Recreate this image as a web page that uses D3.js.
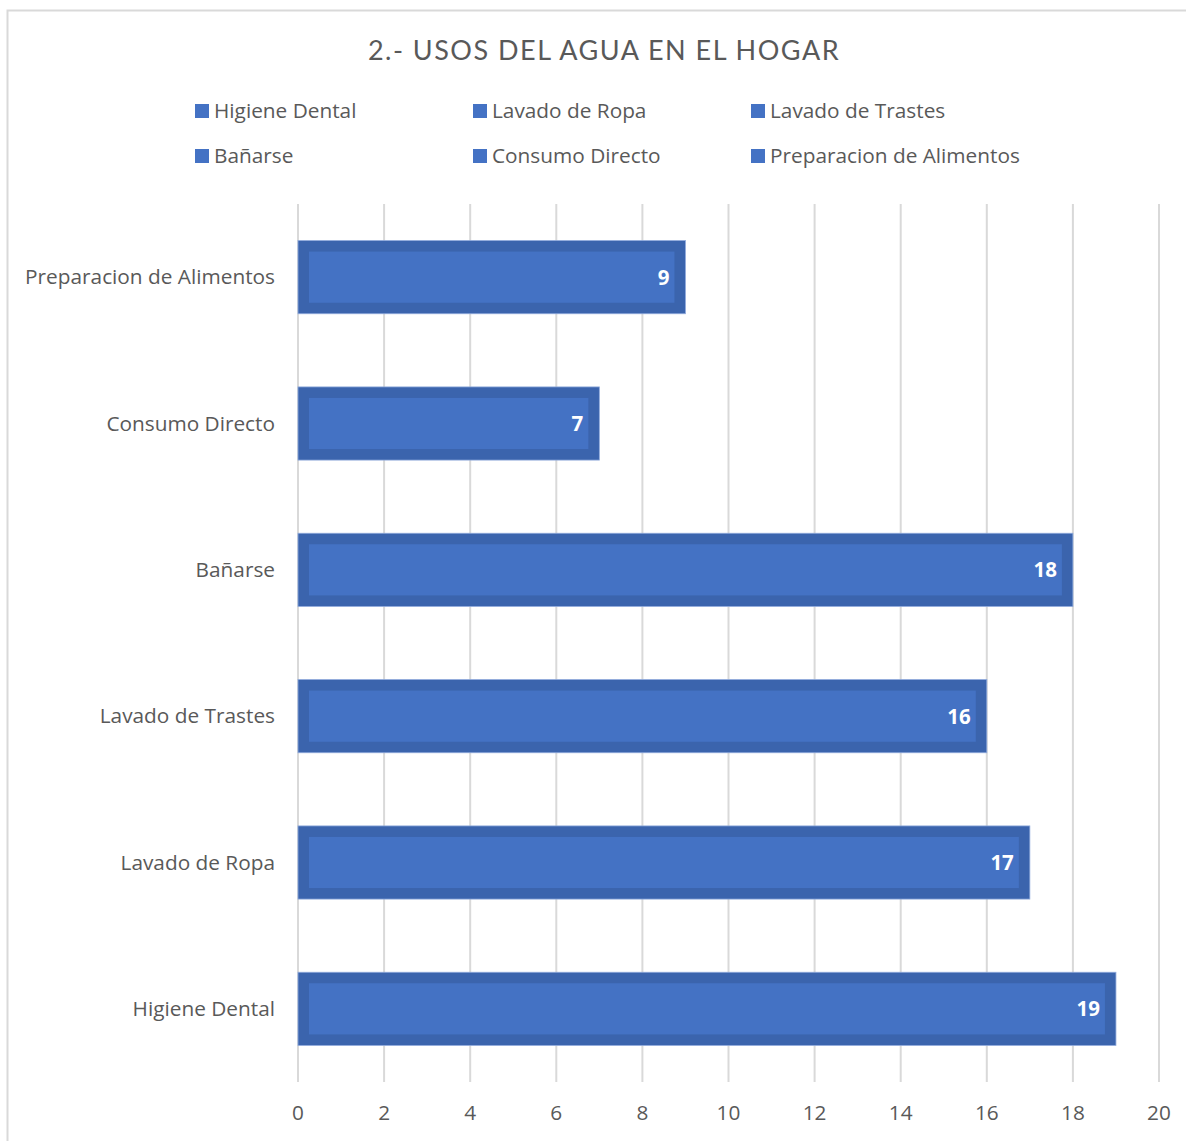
<!DOCTYPE html>
<html><head><meta charset="utf-8">
<script src="https://cdn.jsdelivr.net/npm/d3@7"></script>
<style>body{margin:0;background:#fff}svg{display:block}</style>
</head><body>
<script>
const title = "2.- USOS DEL AGUA EN EL HOGAR";
const categories = ["Higiene Dental","Lavado de Ropa","Lavado de Trastes","Bañarse","Consumo Directo","Preparacion de Alimentos"];
const values = [19,17,16,18,7,9];
const ticks = [0,2,4,6,8,10,12,14,16,18,20];
const legendItems = ["Higiene Dental","Lavado de Ropa","Lavado de Trastes","Bañarse","Consumo Directo","Preparacion de Alimentos"];

const W=1186,H=1141;
const tfont="Lato, 'Open Sans', sans-serif";
const font="'Open Sans', Lato, sans-serif";
const svg=d3.select("body").append("svg").attr("width",W).attr("height",H);
svg.append("rect").attr("x",7.5).attr("y",10.5).attr("width",W).attr("height",H).attr("fill","#fff").attr("stroke","#d9d9d9").attr("stroke-width",2);

svg.append("text").attr("x",604).attr("y",60).attr("text-anchor","middle")
 .attr("font-family",tfont).attr("font-size",27).attr("letter-spacing",1.5).attr("fill","#595959").text(title);

const lg=svg.append("g");
legendItems.forEach((t,i)=>{
  const col=i%3,row=Math.floor(i/3);
  const x=195+col*278,y=111+row*45;
  lg.append("rect").attr("x",x).attr("y",y-7).attr("width",14).attr("height",14).attr("fill","#4472c4");
  lg.append("text").attr("x",x+19).attr("y",y).attr("dy","0.35em").attr("font-family",font).attr("font-size",20.8).attr("fill","#595959").text(t);
});

const x=d3.scaleLinear().domain([0,20]).range([298,1159]);
const y=d3.scaleBand().domain(categories.slice().reverse()).range([204,1082]).paddingInner(0.5).paddingOuter(0.25);

svg.append("g").selectAll("line").data(ticks).join("line")
 .attr("x1",d=>x(d)).attr("x2",d=>x(d)).attr("y1",204).attr("y2",1082)
 .attr("stroke","#d9d9d9").attr("stroke-width",2);

const bars=svg.append("g");
categories.forEach((c,i)=>{
  const v=values[i];
  const y0=y(c),bh=y.bandwidth(),x0=x(0),bw=x(v)-x(0);
  bars.append("rect").attr("x",x0).attr("y",y0).attr("width",bw).attr("height",bh).attr("fill","#3b64ad").attr("stroke","#8faadc").attr("stroke-width",0.8);
  bars.append("rect").attr("x",x0+11).attr("y",y0+11).attr("width",bw-22).attr("height",bh-22).attr("fill","#4472c4");
  bars.append("text").attr("x",x(v)-16).attr("y",y0+bh/2).attr("dy","0.36em").attr("text-anchor","end")
   .attr("font-family",font).attr("font-weight","bold").attr("font-size",20.5).attr("fill","#fff").text(v);
});

svg.append("g").selectAll("text").data(categories).join("text")
 .attr("x",275).attr("y",d=>y(d)+y.bandwidth()/2).attr("dy","0.35em").attr("text-anchor","end")
 .attr("font-family",font).attr("font-size",20.8).attr("fill","#595959").text(d=>d);

svg.append("g").selectAll("text").data(ticks).join("text")
 .attr("x",d=>x(d)).attr("y",1113).attr("dy","0.35em").attr("text-anchor","middle")
 .attr("font-family",font).attr("font-size",20.8).attr("fill","#595959").text(d=>d);
</script>
</body></html>
